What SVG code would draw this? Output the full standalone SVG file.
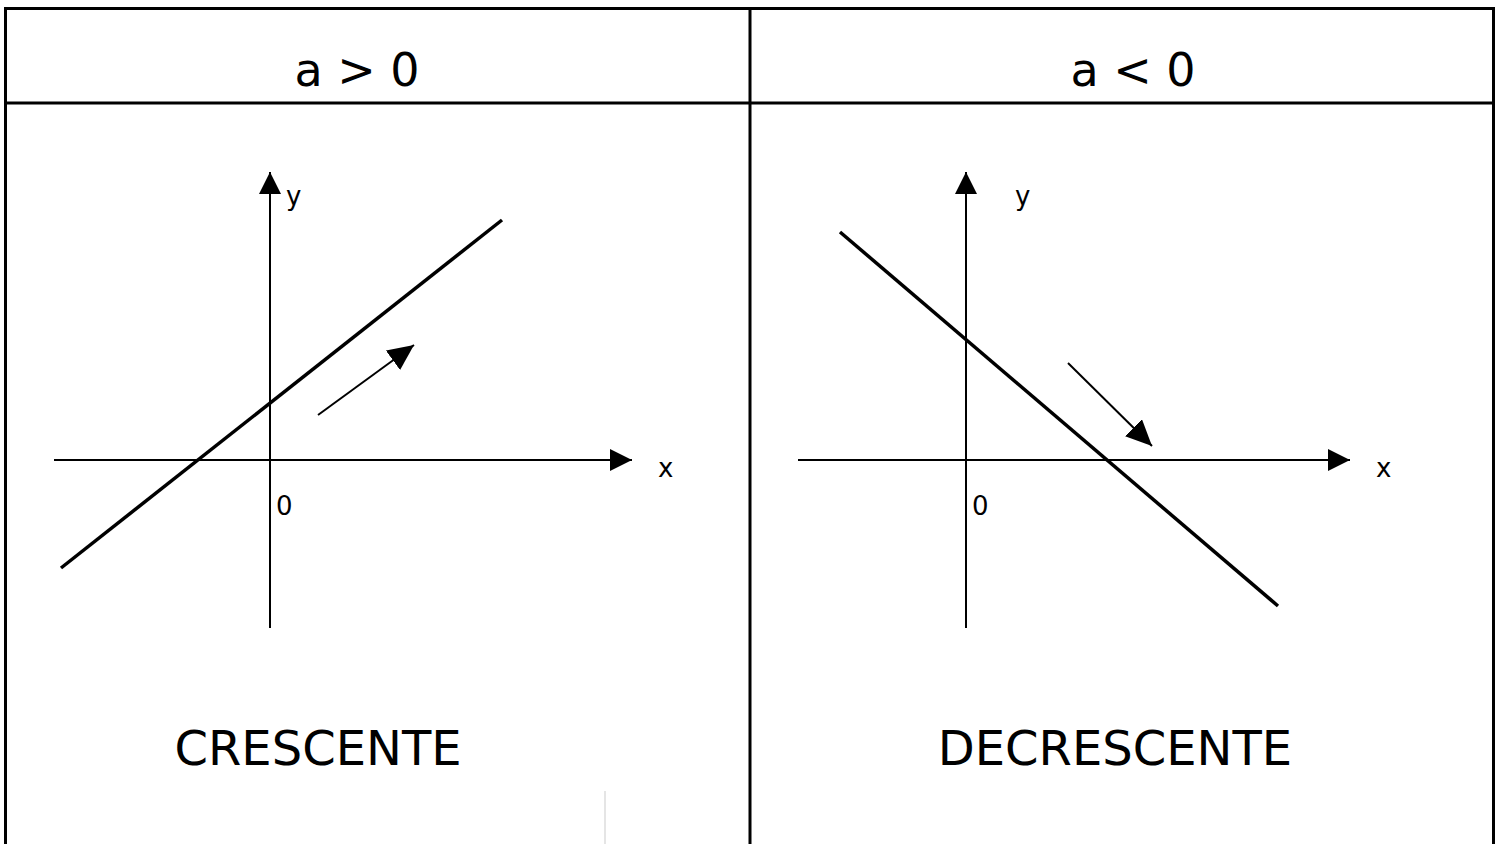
<svg xmlns="http://www.w3.org/2000/svg" width="1501" height="844" viewBox="0 0 1501 844">
<style>
.frame{fill:none;stroke:#000;stroke-width:3}
.axis{stroke:#000;stroke-width:2;fill:none}
.graph{stroke:#000;stroke-width:3.5;fill:none}
.small{stroke:#000;stroke-width:2;fill:none}
.t{font-family:"DejaVu Sans",Verdana,sans-serif;fill:#000}
.lbl{font-size:26px}
.head{font-size:46px;text-anchor:middle}
.big{font-size:48px;text-anchor:middle}
</style>
<defs>
<marker id="ah" markerWidth="24" markerHeight="22" refX="22" refY="11" orient="auto" markerUnits="userSpaceOnUse">
<path d="M0,0 L22,11 L0,22 Z" fill="#000"/>
</marker>
<marker id="ah2" markerWidth="26" markerHeight="24" refX="26" refY="12" orient="auto" markerUnits="userSpaceOnUse">
<path d="M0,0 L26,12 L0,24 Z" fill="#000"/>
</marker>
</defs>
<g id="table">
<rect class="frame" x="5.5" y="8.5" width="1488" height="845"/>
<line class="frame" x1="5" y1="103" x2="1494" y2="103"/>
<line class="frame" x1="750" y1="8" x2="750" y2="844"/>
<line x1="605" y1="791" x2="605" y2="844" stroke="#ddd" stroke-width="1.5"/>
</g>
<g id="header-left"><text class="t head" x="357" y="86">a &gt; 0</text></g>
<g id="header-right"><text class="t head" x="1133" y="86">a &lt; 0</text></g>
<g id="connectors">
<line class="axis" x1="270" y1="628" x2="270" y2="172" marker-end="url(#ah)"/>
<line class="axis" x1="54" y1="460" x2="632" y2="460" marker-end="url(#ah)"/>
<line class="graph" x1="61" y1="568" x2="502" y2="220"/>
<line class="small" x1="318" y1="415" x2="414" y2="345" marker-end="url(#ah2)"/>
<line class="axis" x1="966" y1="628" x2="966" y2="172" marker-end="url(#ah)"/>
<line class="axis" x1="798" y1="460" x2="1350" y2="460" marker-end="url(#ah)"/>
<line class="graph" x1="840" y1="232" x2="1278" y2="606"/>
<line class="small" x1="1068" y1="363" x2="1152" y2="446" marker-end="url(#ah2)"/>
</g>
<g id="labels-left">
<text class="t lbl" x="286" y="205">y</text>
<text class="t lbl" x="658" y="477">x</text>
<text class="t lbl" x="276" y="515">0</text>
</g>
<g id="labels-right">
<text class="t lbl" x="1015" y="205">y</text>
<text class="t lbl" x="1376" y="477">x</text>
<text class="t lbl" x="972" y="515">0</text>
</g>
<g id="title-left"><text class="t big" x="318" y="765">CRESCENTE</text></g>
<g id="title-right"><text class="t big" x="1115" y="765">DECRESCENTE</text></g>
</svg>
